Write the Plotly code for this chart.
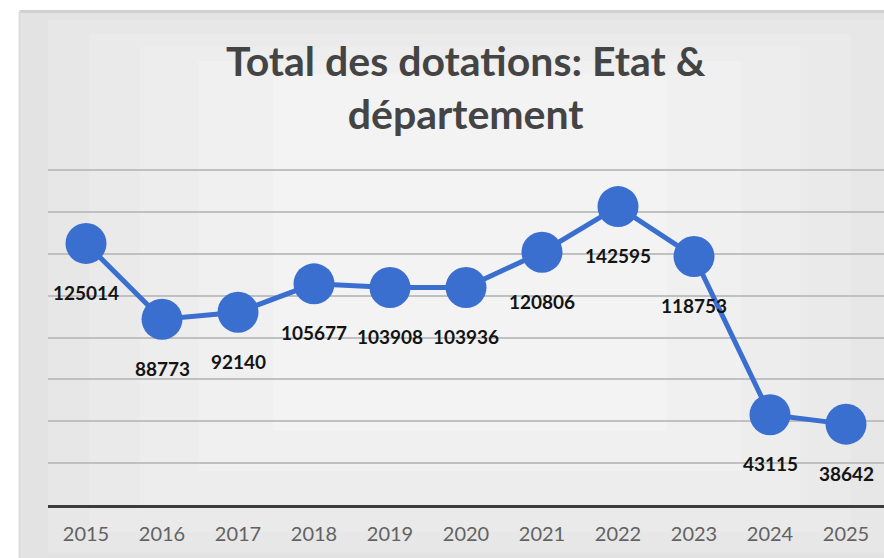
import plotly.graph_objects as go

# données
annees = ["2015", "2016", "2017", "2018", "2019", "2020", "2021", "2022", "2023", "2024", "2025"]
dotations = [125014, 88773, 92140, 105677, 103908, 103936, 120806, 142595, 118753, 43115, 38642]
titre = "Total des dotations: Etat &<br>département"

BLEU = "#3a6fd0"

fig = go.Figure()

fig.add_trace(
    go.Scatter(
        x=annees,
        y=dotations,
        mode="lines+markers",
        line=dict(color=BLEU, width=5),
        marker=dict(color=BLEU, size=41),
        hoverinfo="x+y",
    )
)

# étiquettes de données sous les marqueurs (x = index de catégorie)
for i, val in enumerate(dotations):
    fig.add_annotation(
        x=i,
        y=val,
        text=str(val),
        showarrow=False,
        yshift=-49,
        font=dict(family="Lato", size=19, color="#141414", weight="bold"),
    )

# titre sur deux lignes
fig.add_annotation(
    x=0.5, y=1.232, xref="paper", yref="paper",
    xanchor="center", yanchor="middle",
    text=titre, showarrow=False,
    font=dict(family="Lato", size=41, color="#444444", weight="bold"),
)

# fond du cadre (dégradé gris approximé)
fond = [
    ("#e3e3e3", -0.034, 1.02, -0.20, 1.46),
    ("#e7e7e7", 0.0, 1.0, -0.14, 1.43),
    ("#eaeaea", 0.05, 0.96, -0.08, 1.39),
    ("#ededed", 0.11, 0.90, 0.0, 1.35),
    ("#f0f0f0", 0.18, 0.83, 0.10, 1.31),
    ("#f3f3f3", 0.27, 0.74, 0.22, 1.27),
]
for couleur, x0, x1, y0, y1 in fond:
    fig.add_shape(
        type="rect", xref="paper", yref="paper",
        x0=x0, x1=x1, y0=y0, y1=y1,
        fillcolor=couleur, line=dict(width=0), layer="below",
    )
fig.add_shape(
    type="line", xref="paper", yref="paper",
    x0=-0.034, x1=1.02, y0=1.456, y1=1.456,
    line=dict(color="#d0d0d0", width=3), layer="below",
)
fig.add_shape(
    type="line", xref="paper", yref="paper",
    x0=-0.034, x1=-0.034, y0=-0.20, y1=1.456,
    line=dict(color="#dcdcdc", width=2), layer="below",
)

fig.update_layout(
    width=884,
    height=558,
    margin=dict(l=48, r=0, t=166, b=53),
    paper_bgcolor="white",
    plot_bgcolor="rgba(0,0,0,0)",
    showlegend=False,
    xaxis=dict(
        type="category",
        range=[-0.5, 10.5],
        showgrid=False,
        showline=True,
        linecolor="#3c3c3c",
        linewidth=3,
        ticks="",
        tickfont=dict(family="Lato", size=20, color="#626262"),
        ticklabelstandoff=9,
    ),
    yaxis=dict(
        range=[0, 162000],
        dtick=20000,
        showgrid=True,
        gridcolor="#c0c0c0",
        gridwidth=2,
        zeroline=False,
        showticklabels=False,
        ticks="",
    ),
)

# page sans marge pour que la figure remplisse la fenêtre
fig.write_html(
    "out.html",
    config={"displayModeBar": False},
    post_script="document.body.style.margin='0';document.body.style.overflow='hidden';",
)
